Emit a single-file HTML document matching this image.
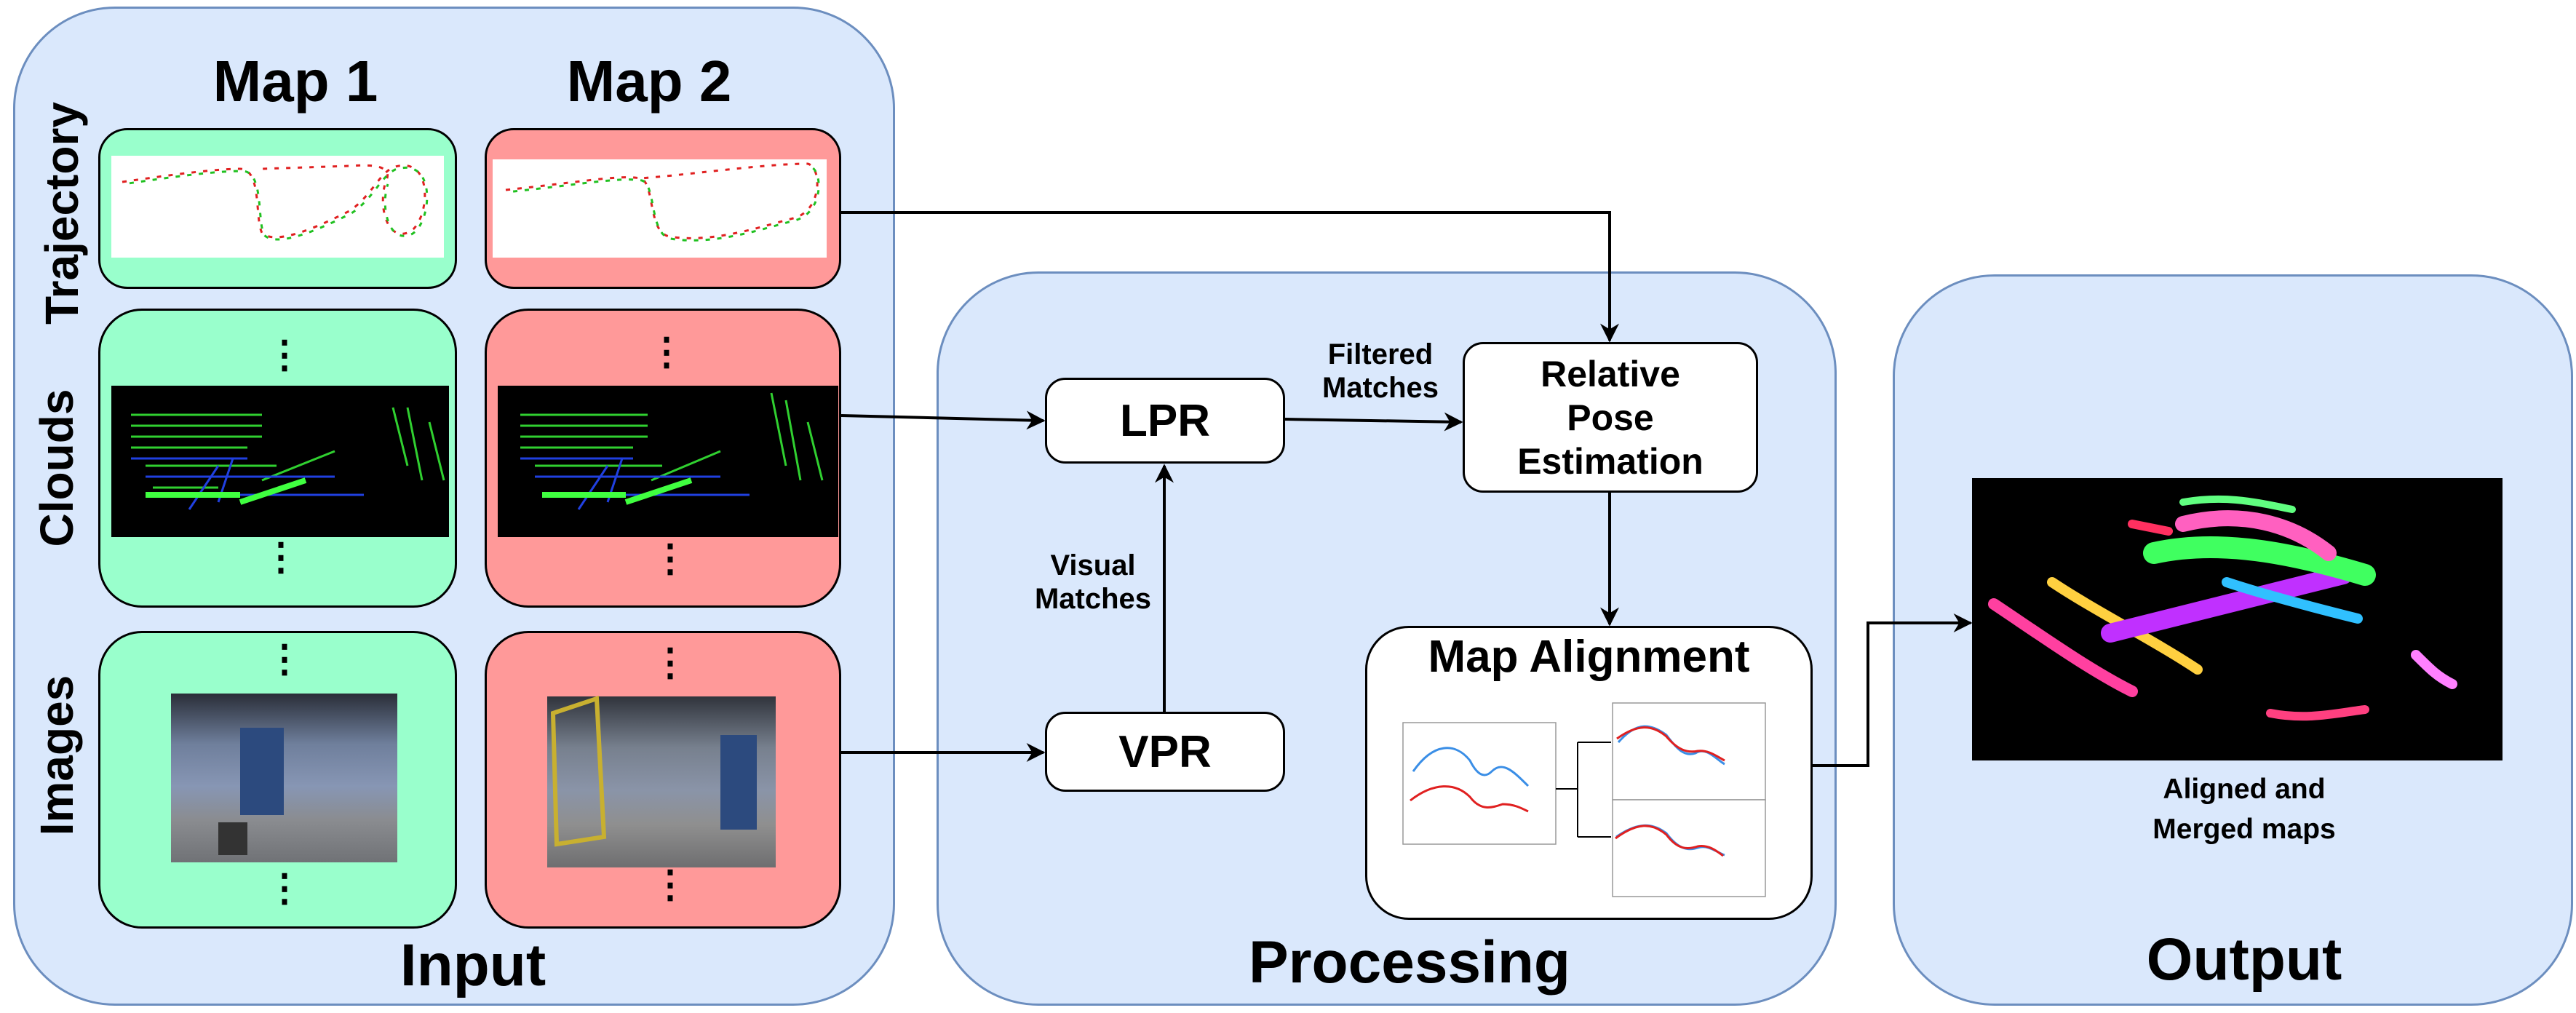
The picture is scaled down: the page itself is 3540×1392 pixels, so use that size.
<!DOCTYPE html>
<html><head><meta charset="utf-8">
<style>
body{margin:0;width:3540px;height:1392px;background:#fff;position:relative;overflow:hidden;font-family:"Liberation Sans",sans-serif;font-weight:bold;}
div{position:absolute;box-sizing:border-box;}
.panel{background:#dae8fc;border:3px solid #6c8ebf;border-radius:140px;}
.g{background:#99ffcc;border:3px solid #000;border-radius:60px;}
.r{background:#ff9999;border:3px solid #000;border-radius:60px;}
.wb{background:#fff;border:3px solid #000;border-radius:28px;display:flex;align-items:center;justify-content:center;text-align:center;}
.t{white-space:nowrap;text-align:center;line-height:1.15;}
.dots{font-size:52px;line-height:1;width:40px;text-align:center;}
.rot{transform:translate(-50%,-50%) rotate(-90deg);font-size:64px;left:0;top:0;}
</style></head><body>
<div class="panel" style="left:18px;top:9px;width:1212px;height:1373px;"></div>
<div class="panel" style="left:1287px;top:373px;width:1237px;height:1009px;"></div>
<div class="panel" style="left:2601px;top:377px;width:935px;height:1005px;"></div>

<div class="t" style="left:256px;top:66px;width:300px;font-size:80px;">Map 1</div>
<div class="t" style="left:742px;top:66px;width:300px;font-size:80px;">Map 2</div>
<div class="t rot" style="left:86px;top:293px;">Trajectory</div>
<div class="t rot" style="left:79px;top:643px;">Clouds</div>
<div class="t rot" style="left:79px;top:1038px;">Images</div>

<div class="g" style="left:135px;top:176px;width:493px;height:221px;border-radius:40px;"></div>
<div class="r" style="left:666px;top:176px;width:490px;height:221px;border-radius:40px;"></div>
<div class="g" style="left:135px;top:424px;width:493px;height:411px;"></div>
<div class="r" style="left:666px;top:424px;width:490px;height:411px;"></div>
<div class="g" style="left:135px;top:867px;width:493px;height:409px;"></div>
<div class="r" style="left:666px;top:867px;width:490px;height:409px;"></div>

<div style="left:153px;top:214px;width:457px;height:140px;background:#fff;"></div>
<div style="left:677px;top:219px;width:459px;height:135px;background:#fff;"></div>
<div style="left:153px;top:530px;width:464px;height:208px;background:#000;"></div>
<div style="left:684px;top:530px;width:468px;height:208px;background:#000;"></div>
<div style="left:235px;top:953px;width:311px;height:232px;background:linear-gradient(180deg,#2a2e38 0%,#6f7f9c 30%,#8796b4 55%,#8a8c90 75%,#707276 100%);"></div>
<div style="left:752px;top:957px;width:314px;height:235px;background:linear-gradient(180deg,#30343c 0%,#77808e 30%,#8a94a8 55%,#8f8f8f 75%,#6e6e70 100%);"></div>

<div class="dots" style="left:365px;top:462px;">⋮</div>
<div class="dots" style="left:360px;top:740px;">⋮</div>
<div class="dots" style="left:890px;top:458px;">⋮</div>
<div class="dots" style="left:895px;top:742px;">⋮</div>
<div class="dots" style="left:365px;top:880px;">⋮</div>
<div class="dots" style="left:365px;top:1195px;">⋮</div>
<div class="dots" style="left:895px;top:885px;">⋮</div>
<div class="dots" style="left:895px;top:1190px;">⋮</div>

<div class="t" style="left:450px;top:1280px;width:400px;font-size:82px;">Input</div>
<div class="t" style="left:1637px;top:1276px;width:600px;font-size:82px;">Processing</div>
<div class="t" style="left:2834px;top:1272px;width:500px;font-size:82px;">Output</div>

<div class="wb" style="left:1436px;top:519px;width:330px;height:118px;font-size:62px;">LPR</div>
<div class="wb" style="left:1436px;top:978px;width:330px;height:110px;font-size:62px;">VPR</div>
<div class="wb" style="left:2010px;top:470px;width:406px;height:207px;font-size:50px;line-height:1.2;">Relative<br>Pose<br>Estimation</div>
<div class="wb" style="left:1876px;top:860px;width:615px;height:404px;border-radius:60px;align-items:flex-start;"><span style="font-size:62px;margin-top:4px;">Map Alignment</span></div>

<div class="t" style="left:1747px;top:464px;width:300px;font-size:40px;">Filtered<br>Matches</div>
<div class="t" style="left:1352px;top:754px;width:300px;font-size:40px;">Visual<br>Matches</div>
<div class="t" style="left:2884px;top:1058px;width:400px;font-size:39px;line-height:1.4;">Aligned and<br>Merged maps</div>

<div style="left:2710px;top:657px;width:729px;height:388px;background:#000;"></div>

<svg width="3540" height="1392" style="position:absolute;left:0;top:0;">
<defs>
<marker id="b" viewBox="0 0 10 10" refX="9" refY="5" markerWidth="26" markerHeight="26" orient="auto" markerUnits="userSpaceOnUse"><path d="M0,0 L10,5 L0,10 L3,5z" fill="#000"/></marker></defs>
<g fill="none" stroke="#000" stroke-width="4" marker-end="url(#b)">
<path d="M1156,292 H2212 V468"/>
<path d="M1156,571 L1434,578"/>
<path d="M1156,1034 L1434,1034"/>
<path d="M1766,576 L2008,580"/>
<path d="M1600,978 V640"/>
<path d="M2212,677 V858"/>
<path d="M2491,1052 H2567 V856 H2708"/>
</g>
<g fill="none" stroke-width="3" stroke-dasharray="6 10">
<path d="M168,250 C250,238 300,232 330,232 C360,232 350,300 360,320 C380,340 450,305 480,290 C510,270 520,240 540,230 C600,210 590,310 560,320 C530,330 520,280 530,250 C540,230 520,225 480,228 L360,232" stroke="#e02020"/>
<path d="M170,253 C250,241 300,235 333,235 C363,235 353,303 363,323 C383,343 453,308 483,293 C513,273 523,243 543,233 C603,213 593,313 563,323 C533,333 523,283 533,253" stroke="#20c020" stroke-dashoffset="8"/>
<path d="M695,261 C800,250 850,240 880,245 C900,250 890,320 920,325 C980,335 1050,310 1090,300 C1130,290 1130,230 1110,225 C1050,225 950,240 880,245" stroke="#e02020"/>
<path d="M697,264 C802,253 852,243 882,248 C902,253 892,323 922,328 C982,338 1052,313 1092,303 C1132,293 1132,233 1112,228" stroke="#20c020" stroke-dashoffset="8"/>
</g>
<g stroke-width="3" fill="none" transform="translate(0,40)">
<path d="M180,530 H360 M180,545 H360 M180,560 H360 M180,575 H340 M200,600 H380 M210,630 H300 M360,620 L460,580 M540,520 L560,600 M560,520 L580,620 M590,540 L610,620" stroke="#30d030"/>
<path d="M180,590 H340 M200,615 H460 M240,640 H500 M260,660 L300,600 M300,650 L320,590" stroke="#2040e0"/>
<path d="M200,640 H330 M330,650 L420,620" stroke="#40ff40" stroke-width="8"/>
<path d="M715,530 H890 M715,545 H890 M715,560 H890 M715,575 H870 M735,600 H910 M895,620 L990,580 M1060,500 L1080,600 M1080,510 L1100,620 M1110,540 L1130,620" stroke="#30d030"/>
<path d="M715,590 H870 M735,615 H990 M775,640 H1030 M795,660 L835,600 M835,650 L855,590" stroke="#2040e0"/>
<path d="M745,640 H860 M860,650 L950,620" stroke="#40ff40" stroke-width="8"/>
</g>
<rect x="330" y="1000" width="60" height="120" fill="#2c4a7e"/><rect x="300" y="1130" width="40" height="45" fill="#333"/>
<rect x="990" y="1010" width="50" height="130" fill="#2c4a7e"/><path d="M760,980 L820,960 L830,1150 L765,1160z" fill="none" stroke="#c8b030" stroke-width="6"/>
<g stroke="#999" stroke-width="1.5" fill="#fff">
<rect x="1928" y="993" width="210" height="167"/>
<rect x="2216" y="966" width="210" height="133"/>
<rect x="2216" y="1099" width="210" height="133"/>
</g>
<g fill="none" stroke-width="3">
<path d="M1942,1060 C1970,1020 2000,1020 2020,1045 C2030,1065 2040,1070 2050,1060 C2065,1045 2080,1060 2100,1080" stroke="#3a8ee6"/>
<path d="M1938,1100 C1970,1075 2000,1075 2020,1095 C2035,1115 2050,1110 2065,1105 C2080,1105 2090,1110 2100,1115" stroke="#e02020"/>
<path d="M2224,1020 C2250,990 2270,995 2290,1010 C2305,1030 2315,1040 2330,1035 C2345,1025 2360,1045 2370,1050" stroke="#3a8ee6"/>
<path d="M2222,1015 C2250,995 2270,995 2290,1012 C2305,1030 2318,1035 2333,1032 C2348,1030 2360,1040 2370,1045" stroke="#e02020"/>
<path d="M2221,1150 C2250,1130 2270,1130 2290,1145 C2305,1165 2318,1170 2333,1165 C2348,1160 2360,1172 2370,1175" stroke="#3a8ee6"/>
<path d="M2220,1152 C2250,1130 2270,1130 2290,1147 C2305,1167 2318,1168 2333,1163 C2348,1160 2360,1170 2368,1176" stroke="#e02020"/>
</g>
<path d="M2138,1084 H2168 M2168,1020 V1150 M2168,1020 H2214 M2168,1150 H2214" stroke="#000" stroke-width="2" fill="none"/>
<g fill="none" stroke-linecap="round">
<path d="M2740,830 C2800,870 2870,920 2930,950" stroke="#ff40a0" stroke-width="16"/>
<path d="M2820,800 C2880,840 2960,880 3020,920" stroke="#ffd040" stroke-width="14"/>
<path d="M2900,870 L3220,790" stroke="#c030ff" stroke-width="26"/>
<path d="M2960,760 C3050,740 3150,760 3250,790" stroke="#40ff60" stroke-width="30"/>
<path d="M3000,720 C3080,700 3150,720 3200,760" stroke="#ff60c0" stroke-width="22"/>
<path d="M3060,800 C3120,820 3200,840 3240,850" stroke="#30c0ff" stroke-width="14"/>
<path d="M3120,980 C3170,990 3210,980 3250,975" stroke="#ff4080" stroke-width="12"/>
<path d="M3320,900 C3340,920 3350,930 3370,940" stroke="#ff80ff" stroke-width="14"/>
<path d="M3000,690 C3060,680 3100,690 3150,700" stroke="#60ff80" stroke-width="10"/>
<path d="M2930,720 L2980,730" stroke="#ff3060" stroke-width="12"/>
</g>
</svg>
</body></html>
